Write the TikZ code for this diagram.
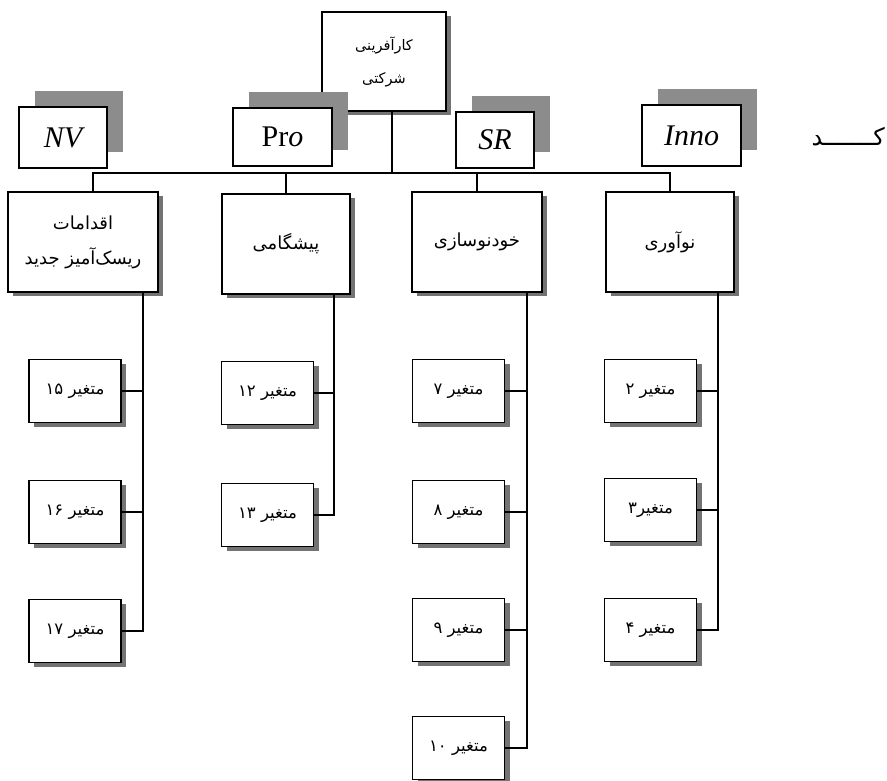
\documentclass[tikz,border=0pt]{standalone}
\usepackage{fontspec}
\setmainfont{Liberation Serif}
\newfontfamily\fa[Script=Arabic]{DejaVu Sans}
\TeXXeTstate=1
\usetikzlibrary{shadows}

\begin{document}
\begin{tikzpicture}[x=1pt, y=-1pt,
  box/.style={draw, line width=1.8pt, fill=white, align=center, inner sep=0pt,
    drop shadow={shadow xshift=5pt, shadow yshift=-4pt, fill=black!55, opacity=1}},
  tag/.style={draw, line width=1.8pt, fill=white, inner sep=0pt,
    font=\fontsize{30}{30}\selectfont\itshape,
    drop shadow={shadow xshift=16pt, shadow yshift=16pt, fill=black!45, opacity=1}},
  group/.style={box, minimum height=100pt, font=\fa\fontsize{18}{35}\selectfont},
  var/.style={box, minimum width=92pt, minimum height=63pt, font=\fa\fontsize{16.5}{16.5}\selectfont},
  link/.style={line width=1.5pt}]
  \useasboundingbox (0,0) rectangle (887,781);

  % top
  \node[box, minimum width=124pt, minimum height=99pt, font=\fa\fontsize{14.5}{33}\selectfont]
    (corp) at (384,61.5) {\beginR کارآفرینی\endR\\\beginR شرکتی\endR};

  % labels with shadow
  \node[tag, minimum width=88pt, minimum height=61pt] (tnv) at (63,137.5) {NV};
  \node[tag, minimum width=99pt, minimum height=58pt, font=\fontsize{30}{30}\selectfont]
    (tpro) at (282.5,137) {Pr\textit{o}};
  \node[tag, minimum width=78pt, minimum height=56pt] (tsr) at (495,140) {SR};
  \node[tag, minimum width=99pt, minimum height=61pt] (tinno) at (691.5,135.5) {Inno};
  \node[font=\fa\fontsize{24}{24}\selectfont, anchor=east, inner sep=0pt] (kad) at (885,137)
    {\beginR کـــــــد\endR};

  % groups
  \node[group, minimum width=150pt] (newv) at (83,242)
    {\beginR اقدامات\endR\\\beginR ریسک‌آمیز جدید\endR};
  \node[group, minimum width=128pt] (pro) at (286,244) {\beginR پیشگامی\endR};
  \node[group, minimum width=130pt] (self) at (477,242) {\beginR خودنوسازی\endR};
  \node[group, minimum width=128pt] (inno) at (670,242) {\beginR نوآوری\endR};

  % variables
  \node[var] (v15) at (75,391) {\beginR متغیر \beginL۱۵\endL\endR};
  \node[var] (v16) at (75,512) {\beginR متغیر \beginL۱۶\endL\endR};
  \node[var] (v17) at (75,631) {\beginR متغیر \beginL۱۷\endL\endR};

  \node[var] (v12) at (267.5,393) {\beginR متغیر \beginL۱۲\endL\endR};
  \node[var] (v13) at (267.5,515) {\beginR متغیر \beginL۱۳\endL\endR};

  \node[var] (v7) at (458.5,391) {\beginR متغیر ۷\endR};
  \node[var] (v8) at (458.5,512) {\beginR متغیر ۸\endR};
  \node[var] (v9) at (458.5,630) {\beginR متغیر ۹\endR};
  \node[var] (v10) at (458.5,748) {\beginR متغیر \beginL۱۰\endL\endR};

  \node[var] (v2) at (650.5,391) {\beginR متغیر ۲\endR};
  \node[var] (v3) at (650.5,510) {\beginR متغیر۳\endR};
  \node[var] (v4) at (650.5,630) {\beginR متغیر ۴\endR};

  % connectors
  \coordinate (bus) at (392,173);
  \draw[link] ([xshift=8pt]corp.south) -- (bus);
  \draw[link] ([xshift=10pt]newv.north) |- (bus) -| (inno.north);
  \draw[link] (pro.north) -- (pro.north |- bus);
  \draw[link] (self.north) -- (self.north |- bus);

  \draw[link] ([xshift=-16pt]newv.south east) |- (v15.east);
  \draw[link] ([xshift=-16pt]newv.south east) |- (v16.east);
  \draw[link] ([xshift=-16pt]newv.south east) |- (v17.east);

  \draw[link] ([xshift=-17pt]pro.south east) |- (v12.east);
  \draw[link] ([xshift=-17pt]pro.south east) |- (v13.east);

  \draw[link] ([xshift=-16pt]self.south east) |- (v7.east);
  \draw[link] ([xshift=-16pt]self.south east) |- (v8.east);
  \draw[link] ([xshift=-16pt]self.south east) |- (v9.east);
  \draw[link] ([xshift=-16pt]self.south east) |- (v10.east);

  \draw[link] ([xshift=-17pt]inno.south east) |- (v2.east);
  \draw[link] ([xshift=-17pt]inno.south east) |- (v3.east);
  \draw[link] ([xshift=-17pt]inno.south east) |- (v4.east);
\end{tikzpicture}
\end{document}
